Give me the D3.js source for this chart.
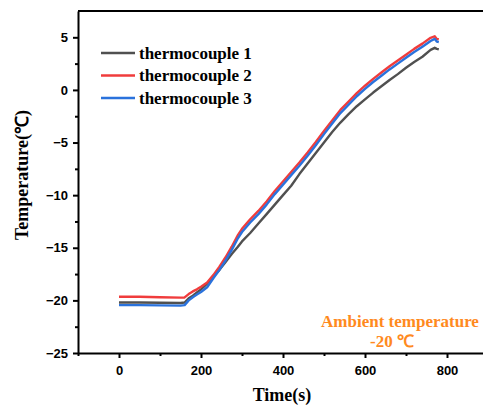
<!DOCTYPE html>
<html>
<head>
<meta charset="utf-8">
<script src="https://cdn.jsdelivr.net/npm/d3@7"></script>
<style>
  body { margin: 0; background: #fff; }
  .tick text { font-family: "Liberation Sans", Arial, sans-serif; font-weight: bold; font-size: 13px; }
</style>
</head>
<body>
<script>
// data
const times = [0, 50, 100, 150, 160, 170, 180, 190, 200, 215, 230, 245, 260, 275, 290, 300,
  320, 340, 360, 380, 400, 420, 440, 460, 480, 500, 520, 540, 560, 580, 600, 620, 640,
  660, 680, 700, 720, 740, 760, 770, 775, 780];
const tc1 = [-20.2, -20.2, -20.22, -20.25, -20.2, -19.8, -19.55, -19.25, -18.95, -18.4, -17.75, -17.1,
  -16.35, -15.6, -14.9, -14.4, -13.6, -12.7, -11.8, -10.9, -10.0, -9.1, -8.0, -7.0, -6.0, -5.0,
  -4.0, -3.1, -2.3, -1.55, -0.9, -0.25, 0.35, 0.95, 1.5, 2.1, 2.65, 3.15, 3.8, 4.0, 3.9, 3.85];
const tc2 = [-19.65, -19.66, -19.7, -19.74, -19.72, -19.4, -19.15, -18.95, -18.7, -18.3, -17.6, -16.8,
  -15.9, -14.9, -13.8, -13.2, -12.3, -11.5, -10.6, -9.6, -8.7, -7.8, -6.9, -5.95, -4.95, -3.9,
  -2.9, -1.9, -1.1, -0.3, 0.4, 1.05, 1.65, 2.25, 2.8, 3.35, 3.9, 4.4, 4.95, 5.1, 4.85, 4.8];
const tc3 = [-20.45, -20.45, -20.47, -20.5, -20.45, -20.0, -19.7, -19.45, -19.2, -18.75, -17.9, -17.1,
  -16.2, -15.2, -14.1, -13.5, -12.6, -11.8, -10.9, -9.9, -9.0, -8.1, -7.2, -6.25, -5.25, -4.2,
  -3.2, -2.2, -1.4, -0.6, 0.1, 0.75, 1.35, 1.95, 2.5, 3.05, 3.6, 4.1, 4.65, 4.85, 4.6, 4.55];
const seriesNames = ["thermocouple 1", "thermocouple 2", "thermocouple 3"];
const seriesColors = ["#505050", "#f03c3c", "#2a72dc"];
const xTicks = [0, 200, 400, 600, 800];
const yTicks = [-25, -20, -15, -10, -5, 0, 5];

const svg = d3.select("body").append("svg")
  .attr("width", 483)
  .attr("height", 411);

const x = d3.scaleLinear().domain([-100, 900]).range([78, 488]);
const y = d3.scaleLinear().domain([-25, 7.5]).range([353, 11]);

// lines
const line = d3.line()
  .x((d, i) => x(times[i]))
  .y(d => y(d));

[tc1, tc2, tc3].forEach(function(s, k) {
  svg.append("path")
    .datum(s)
    .attr("d", line)
    .attr("fill", "none")
    .attr("stroke", seriesColors[k])
    .attr("stroke-width", 2.4)
    .attr("stroke-linejoin", "round");
});

// frame top
svg.append("line")
  .attr("x1", x(-100)).attr("x2", x(900))
  .attr("y1", y(7.5)).attr("y2", y(7.5))
  .attr("stroke", "#000").attr("stroke-width", 2);

// minor ticks
svg.append("g")
  .attr("transform", "translate(0," + y(-25) + ")")
  .call(d3.axisBottom(x).tickValues([-100, 100, 300, 500, 700]).tickSize(3).tickFormat(""))
  .call(g => g.select(".domain").remove())
  .selectAll("line").attr("stroke-width", 2);
svg.append("g")
  .attr("transform", "translate(" + x(-100) + ",0)")
  .call(d3.axisLeft(y).tickValues([-22.5, -17.5, -12.5, -7.5, -2.5, 2.5]).tickSize(3).tickFormat(""))
  .call(g => g.select(".domain").remove())
  .selectAll("line").attr("stroke-width", 2);

// major axes
const xAxis = svg.append("g")
  .attr("transform", "translate(0," + y(-25) + ")")
  .call(d3.axisBottom(x).tickValues(xTicks).tickSize(5).tickSizeOuter(0).tickPadding(8));
xAxis.select(".domain").attr("stroke-width", 2);
xAxis.selectAll(".tick line").attr("stroke-width", 2);

const yAxis = svg.append("g")
  .attr("transform", "translate(" + x(-100) + ",0)")
  .call(d3.axisLeft(y).tickValues(yTicks).tickSize(5).tickSizeOuter(0).tickPadding(5)
    .tickFormat(d3.format("d")));
yAxis.select(".domain").attr("stroke-width", 2);
yAxis.selectAll(".tick line").attr("stroke-width", 2);

// axis titles
svg.append("text")
  .attr("x", 282).attr("y", 401)
  .attr("text-anchor", "middle")
  .style("font-family", "'Liberation Serif', 'Times New Roman', serif")
  .style("font-weight", "bold").style("font-size", "18px")
  .text("Time(s)");

svg.append("text")
  .attr("transform", "translate(28,175) rotate(-90)")
  .attr("text-anchor", "middle")
  .style("font-family", "'Liberation Serif', 'Times New Roman', serif")
  .style("font-weight", "bold").style("font-size", "18px")
  .text("Temperature(℃)");

// legend
const legend = svg.append("g");
seriesNames.forEach(function(n, k) {
  const ly = 53 + k * 22.5;
  legend.append("line")
    .attr("x1", 101).attr("x2", 135)
    .attr("y1", ly).attr("y2", ly)
    .attr("stroke", seriesColors[k]).attr("stroke-width", 2.4);
  legend.append("text")
    .attr("x", 139).attr("y", ly + 5.5)
    .style("font-family", "'Liberation Serif', 'Times New Roman', serif")
    .style("font-weight", "bold").style("font-size", "17px")
    .text(n);
});

// annotation
const note = svg.append("g")
  .style("font-family", "'Liberation Serif', 'Times New Roman', serif")
  .style("font-weight", "bold").style("font-size", "17px")
  .attr("fill", "#ff8a1e")
  .attr("text-anchor", "middle");
note.append("text").attr("x", 400).attr("y", 327).text("Ambient temperature");
note.append("text").attr("x", 392).attr("y", 347).text("-20 ℃");
</script>
</body>
</html>
